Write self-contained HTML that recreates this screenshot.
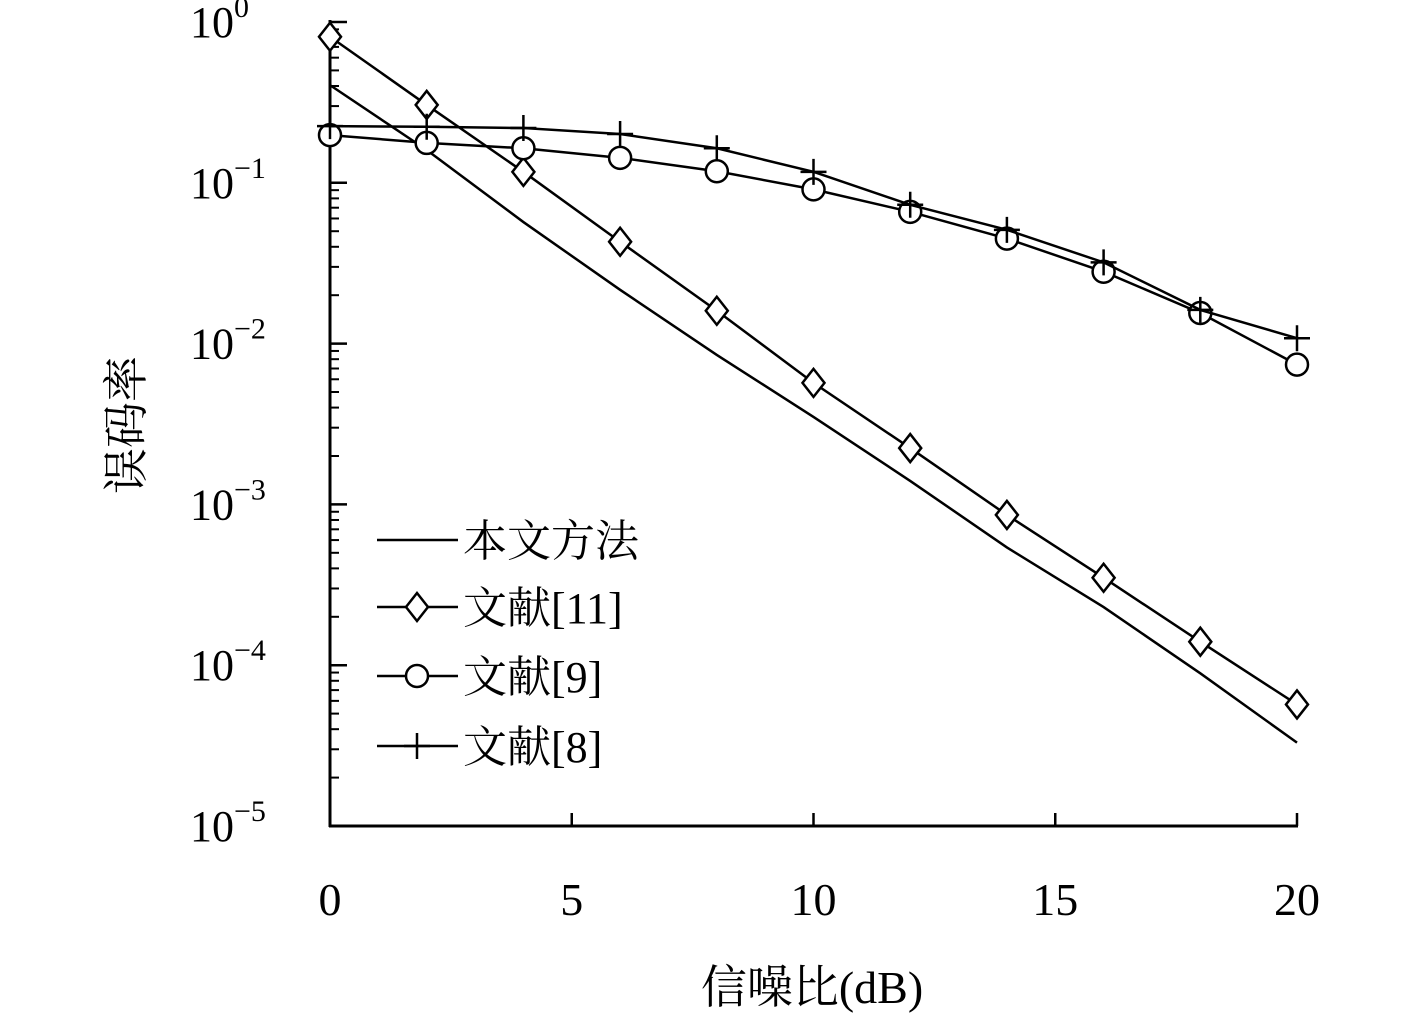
<!DOCTYPE html>
<html><head><meta charset="utf-8"><style>
body{margin:0;background:#fff;}
svg text{font-family:"Liberation Serif","Noto Serif CJK SC",serif;fill:#000;}
</style></head><body>
<svg width="1417" height="1028" viewBox="0 0 1417 1028" xmlns="http://www.w3.org/2000/svg">
<g id="axes"></g><g id="series"></g><g id="legend"></g>
</svg>
<script>
const snr=[0,2,4,6,8,10,12,14,16,18,20];
const proposed=[0.405,0.16,0.057,0.0216,0.0085,0.0035,0.0014,0.00054,0.00023,0.000089,0.000033];
const ref11=[0.81,0.305,0.117,0.043,0.016,0.0057,0.00224,0.00086,0.00035,0.00014,0.000057];
const ref9=[0.198,0.177,0.164,0.143,0.118,0.091,0.066,0.045,0.028,0.0155,0.0074];
const ref8=[0.225,0.223,0.219,0.201,0.164,0.117,0.073,0.051,0.032,0.0162,0.0108];
const xTicks=[0,5,10,15,20];
const yExps=[0,-1,-2,-3,-4,-5];
const legendLabels=["本文方法","文献[11]","文献[9]","文献[8]"];
const NS="http://www.w3.org/2000/svg";
const X=v=>330+v*48.35;
const Y=v=>22-Math.log10(v)*160.8;
function mk(t,a,p){const e=document.createElementNS(NS,t);for(const k in a)e.setAttribute(k,a[k]);p.appendChild(e);return e;}
const ax=document.getElementById('axes'),se=document.getElementById('series'),lg=document.getElementById('legend');
let l=mk('line',{x1:330,y1:20,x2:330,y2:827,stroke:'#000','stroke-width':3},ax);

l=mk('line',{x1:329,y1:826,x2:1298,y2:826,stroke:'#000','stroke-width':3},ax);

xTicks.forEach(v=>{
 const t=mk('line',{x1:X(v),y1:826,x2:X(v),y2:813,stroke:'#000','stroke-width':2.5},ax);
 
 const tx=mk('text',{x:X(v),y:915,'font-size':46,'text-anchor':'middle'},ax);tx.textContent=v;
 
});
yExps.forEach(e=>{
 const y=Y(Math.pow(10,e));
 const t=mk('line',{x1:330,y1:y,x2:347,y2:y,stroke:'#000','stroke-width':2.5},ax);
 
 const tx=mk('text',{x:190,y:y+15,'font-size':44},ax);
 
 tx.textContent='10';
 const s=mk('tspan',{dy:-20,'font-size':30},tx);s.textContent=(e<0?'−':'')+Math.abs(e);
 if(e>-5)for(let m=2;m<10;m++){const yy=Y(m*Math.pow(10,e-1));
  const mt=mk('line',{x1:330,y1:yy,x2:339,y2:yy,stroke:'#000','stroke-width':2},ax);
  }
});
let t=mk('text',{x:812,y:1003,'font-size':46,'text-anchor':'middle'},ax);t.textContent='信噪比(dB)';

t=mk('text',{x:0,y:0,'font-size':46,'text-anchor':'middle',transform:'translate(142,425) rotate(-90)'},ax);t.textContent='误码率';

function marker(type,x,y,p){
 let m;
 if(type==='d')m=mk('polygon',{points:`${x},${y-14} ${x+11},${y} ${x},${y+14} ${x-11},${y}`,fill:'#fff',stroke:'#000','stroke-width':2.5},p);
 else if(type==='o')m=mk('circle',{cx:x,cy:y,r:11,fill:'#fff',stroke:'#000','stroke-width':2.5},p);
 else if(type==='+')m=mk('path',{d:`M${x-13},${y}H${x+13}M${x},${y-13}V${y+13}`,stroke:'#000','stroke-width':2.5,fill:'none'},p);
 if(m){}
}
const series=[[proposed,null,'proposed-line'],[ref11,'d','ref11-line'],[ref9,'o','ref9-line'],[ref8,'+','ref8-line']];
series.forEach(([d,mt,n])=>{
 const g=mk('g',{},se);
 const pl=mk('polyline',{points:d.map((v,i)=>X(snr[i])+','+Y(v)).join(' '),fill:'none',stroke:'#000','stroke-width':2.5},g);
 
 if(mt)d.forEach((v,i)=>marker(mt,X(snr[i]),Y(v),g));
});
const ly=[540,607,676,746];
series.forEach(([d,mt],i)=>{
 const g=mk('g',{},lg);
 mk('line',{x1:377,y1:ly[i],x2:458,y2:ly[i],stroke:'#000','stroke-width':2.5},g);
 if(mt)marker(mt,417,ly[i],g);
 const tx=mk('text',{x:463,y:ly[i]+16,'font-size':44},g);tx.textContent=legendLabels[i];
 
});
</script>
</body></html>
